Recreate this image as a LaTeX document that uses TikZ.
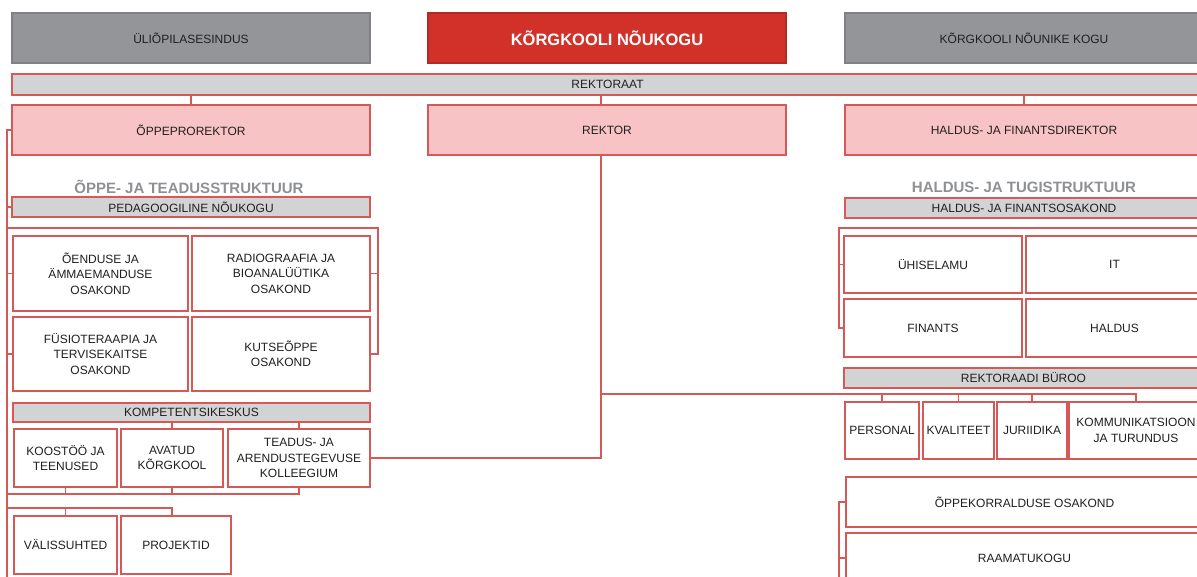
\documentclass[tikz,border=0pt]{standalone}
\usepackage{fontspec}
\setmainfont{Liberation Sans}
\usetikzlibrary{positioning}

\definecolor{linered}{HTML}{D55A57}
\definecolor{pinkfill}{HTML}{F8C3C4}
\definecolor{greyfill}{HTML}{939598}
\definecolor{greyline}{HTML}{7F8184}
\definecolor{barfill}{HTML}{D1D3D4}
\definecolor{redfill}{HTML}{D2312A}
\definecolor{headgrey}{HTML}{8E9093}
\definecolor{textdark}{HTML}{231F20}

\begin{document}
\begin{tikzpicture}[x=1pt, y=-1pt, line width=1.2pt,
  box/.style={draw=linered, fill=white, rectangle, inner sep=1pt, align=center, text=textdark,
    font=\fontsize{12}{15.5}\selectfont},
  pinkbox/.style={box, fill=pinkfill, minimum width=358pt, minimum height=50pt},
  barbox/.style={box, fill=barfill, minimum height=20pt},
  topbox/.style={box, draw=greyline, fill=greyfill, minimum width=358pt, minimum height=50pt},
  councilbox/.style={box, draw=redfill!85!black, fill=redfill, text=white, minimum width=358pt, minimum height=50pt,
    font=\fontsize{16.5}{19}\selectfont\bfseries},
  heading/.style={text=headgrey, font=\fontsize{15}{18}\selectfont\bfseries},
  link/.style={draw=linered, line width=1.2pt}]

  \useasboundingbox (0,0) rectangle (1197,576);
  \clip (0,0) rectangle (1197,576);

  % top row
  \node [topbox] (students) at (191,38) {ÜLIÕPILASESINDUS};
  \node [councilbox] (council) at (607,38) {KÕRGKOOLI NÕUKOGU};
  \node [topbox] (advisors) at (1024,38) {KÕRGKOOLI NÕUNIKE KOGU};

  % rectorate and leaders
  \node [barbox, minimum width=1191pt, minimum height=21pt] (rectorate) at (607.5,84.5) {REKTORAAT};
  \node [pinkbox] (vicerector) at (191,130) {ÕPPEPROREKTOR};
  \node [pinkbox] (rector) at (607,130) {REKTOR};
  \node [pinkbox] (findirector) at (1024,130) {HALDUS- JA FINANTSDIREKTOR};

  % study and research structure
  \node [heading] (studyhead) at (189,187) {ÕPPE- JA TEADUSSTRUKTUUR};
  \node [barbox, minimum width=358pt] (pedcouncil) at (191,207) {PEDAGOOGILINE NÕUKOGU};
  \node [box, minimum width=175pt, minimum height=75pt] (nursing) at (100.5,273.5) {ÕENDUSE JA\\ÄMMAEMANDUSE\\OSAKOND};
  \node [box, minimum width=178pt, minimum height=75pt] (radio) at (281,273.5) {RADIOGRAAFIA JA\\BIOANALÜÜTIKA\\OSAKOND};
  \node [box, minimum width=175pt, minimum height=74pt] (physio) at (100.5,354) {FÜSIOTERAAPIA JA\\TERVISEKAITSE\\OSAKOND};
  \node [box, minimum width=178pt, minimum height=74pt] (vocational) at (281,354) {KUTSEÕPPE\\OSAKOND};
  \node [barbox, minimum width=357pt, minimum height=19pt] (competence) at (191.5,412.5) {KOMPETENTSIKESKUS};
  \node [box, minimum width=103pt, minimum height=58pt] (coop) at (65.5,458) {KOOSTÖÖ JA\\TEENUSED};
  \node [box, minimum width=102pt, minimum height=58pt] (openuni) at (172,458) {AVATUD\\KÕRGKOOL};
  \node [box, minimum width=142pt, minimum height=58pt] (research) at (299,458) {TEADUS- JA\\ARENDUSTEGEVUSE\\KOLLEEGIUM};
  \node [box, minimum width=103pt, minimum height=58pt] (foreign) at (65.5,545) {VÄLISSUHTED};
  \node [box, minimum width=110pt, minimum height=58pt] (projects) at (176,545) {PROJEKTID};

  % administration and support structure
  \node [heading] (adminhead) at (1024,187) {HALDUS- JA TUGISTRUKTUUR};
  \node [barbox, minimum width=358pt] (finoffice) at (1024,208) {HALDUS- JA FINANTSOSAKOND};
  \node [box, minimum width=178pt, minimum height=57pt] (dorm) at (933,264.5) {ÜHISELAMU};
  \node [box, minimum width=177pt, minimum height=57pt] (itdept) at (1114.5,264.5) {IT};
  \node [box, minimum width=178pt, minimum height=58pt] (finance) at (933,328) {FINANTS};
  \node [box, minimum width=177pt, minimum height=58pt] (facilities) at (1114.5,328) {HALDUS};
  \node [barbox, minimum width=359pt] (office) at (1023.5,378) {REKTORAADI BÜROO};
  \node [box, minimum width=74pt, minimum height=57pt] (personnel) at (882,430.5) {PERSONAL};
  \node [box, minimum width=71pt, minimum height=57pt] (quality) at (958.5,430.5) {KVALITEET};
  \node [box, minimum width=70pt, minimum height=57pt] (legal) at (1032,430.5) {JURIIDIKA};
  \node [box, minimum width=134pt, minimum height=57pt] (comms) at (1136,430.5) {KOMMUNIKATSIOON\\JA TURUNDUS};
  \node [box, minimum width=357pt, minimum height=50pt] (studyadmin) at (1024.5,502) {ÕPPEKORRALDUSE OSAKOND};
  \node [box, minimum width=357pt, minimum height=50pt] (library) at (1024.5,558) {RAAMATUKOGU};

  % helper points
  \coordinate (lbot) at (7,590);
  \coordinate (lbrk) at (378,228);
  \coordinate (lrow) at (7,494);
  \coordinate (lext) at (7,508);
  \coordinate (rbrk) at (839,228);
  \coordinate (rbrkend) at (1210,228);
  \coordinate (rtop) at (601,155);
  \coordinate (rrow) at (601,394);
  \coordinate (rlow) at (839,590);

  % rectorate to leaders
  \draw [link] (vicerector.north) -- (vicerector.north |- rectorate.south);
  \draw [link] (rtop |- rector.north) -- (rtop |- rectorate.south);
  \draw [link] (findirector.north) -- (findirector.north |- rectorate.south);

  % left trunk
  \draw [link] (vicerector.west) -| (lbot);
  \draw [link] (pedcouncil.west) -- (pedcouncil.west -| lbot);
  \draw [link] (nursing.west) -- (nursing.west -| lbot);
  \draw [link] (physio.west) -- (physio.west -| lbot);
  \draw [link] (lbrk -| lbot) -- (lbrk) |- (vocational.east);
  \draw [link] (radio.east) -- (radio.east -| lbrk);

  % competence centre
  \draw [link] (openuni.north) -- (openuni.north |- competence.south);
  \draw [link] (research.north) -- (research.north |- competence.south);
  \draw [link] (research.south) |- (lrow);
  \draw [link] (coop.south) -- (coop.south |- lrow);
  \draw [link] (openuni.south) -- (openuni.south |- lrow);
  \draw [link] (lext) -| (openuni.center |- projects.north);
  \draw [link] (foreign.north) -- (foreign.north |- lext);

  % rector line
  \draw [link] (rtop) |- (research.east);
  \draw [link] (rrow) -| (comms.north);
  \draw [link] (personnel.north) -- (personnel.north |- rrow);
  \draw [link] (quality.north) -- (quality.north |- rrow);
  \draw [link] (legal.north) -- (legal.north |- rrow);

  % right brackets
  \draw [link] (rbrkend) -- (rbrk) |- (finance.west);
  \draw [link] (dorm.west) -- (dorm.west -| rbrk);
  \draw [link] (studyadmin.west) -| (rlow);
  \draw [link] (library.west) -- (library.west -| rlow);
\end{tikzpicture}
\end{document}
